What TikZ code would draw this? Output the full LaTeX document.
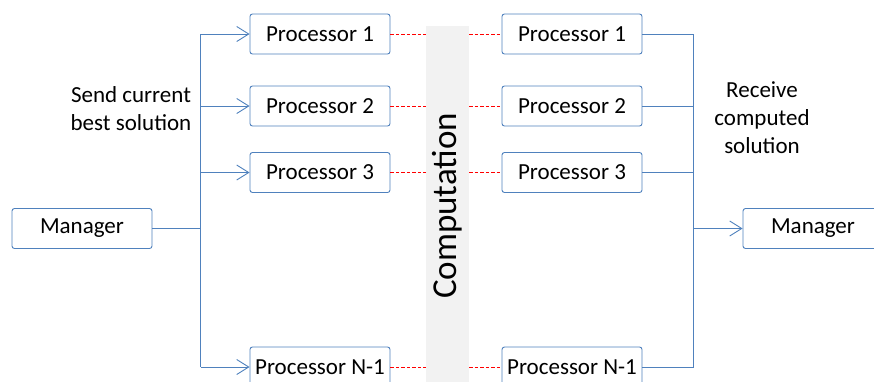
\documentclass[tikz,border=0pt]{standalone}
\usepackage{fontspec}
\setmainfont{Carlito}
\usetikzlibrary{arrows.meta}
\definecolor{linkblue}{RGB}{79,129,189}
\definecolor{barfill}{RGB}{242,242,242}
\begin{document}
\begin{tikzpicture}[x=1pt,y=-1pt,
  proc/.style={rectangle,draw=linkblue,line width=0.9pt,rounded corners=2.5pt,fill=white,minimum width=140pt,minimum height=40pt,inner sep=0pt,font=\fontsize{23}{28}\selectfont},
  lbl/.style={align=center,inner sep=0pt,font=\fontsize{23}{28}\selectfont},
  bus/.style={draw=linkblue,line width=0.9pt},
  send/.style={bus,-{Straight Barb[length=12pt,width=15pt,line width=0.9pt]}},
  comm/.style={red,line width=0.9pt,dash pattern=on 3.5pt off 2pt}]
\useasboundingbox (0,0) rectangle (874,381);
\node[rectangle,fill=barfill,rotate=90,minimum width=360pt,minimum height=43pt,inner sep=0pt,font=\fontsize{35}{40}\selectfont] (comp) at (447.5,206) {Computation};
\node[proc] (M1) at (82,228.5) {Manager};
\node[proc] (M2) at (813,228.5) {Manager};
\node[proc] (L1) at (320,34) {Processor 1};
\node[proc] (L2) at (320,106) {Processor 2};
\node[proc] (L3) at (320,172.5) {Processor 3};
\node[proc] (LN) at (320,367) {Processor N-1};
\node[proc] (R1) at (572,34) {Processor 1};
\node[proc] (R2) at (572,106) {Processor 2};
\node[proc] (R3) at (572,172.5) {Processor 3};
\node[proc] (RN) at (572,367) {Processor N-1};
\node[lbl] (sendlbl) at (131,109) {Send current\\best solution};
\node[lbl] (recvlbl) at (762,118) {Receive\\computed\\solution};
% send side
\coordinate (busL) at (200.5,228.5);
\draw[bus] (M1.east) -- (busL);
\draw[bus] (busL |- L1.west) -- (busL |- LN.west);
\foreach \p in {L1,L2,L3,LN} \draw[send] (busL |- \p.west) -- (\p.west);
% receive side
\coordinate (busR) at (693.5,228.5);
\foreach \p in {R1,R2,R3,RN} \draw[bus] (\p.east) -- (busR |- \p.east);
\draw[bus] (busR |- R1.east) -- (busR |- RN.east);
\draw[send] (busR) -- (M2.west);
% computation links
\foreach \p in {L1,L2,L3,LN} \draw[comm] (\p.east) -- (\p.east -| comp.north);
\foreach \p in {R1,R2,R3,RN} \draw[comm] (\p.west -| comp.south) -- (\p.west);
\end{tikzpicture}
\end{document}
